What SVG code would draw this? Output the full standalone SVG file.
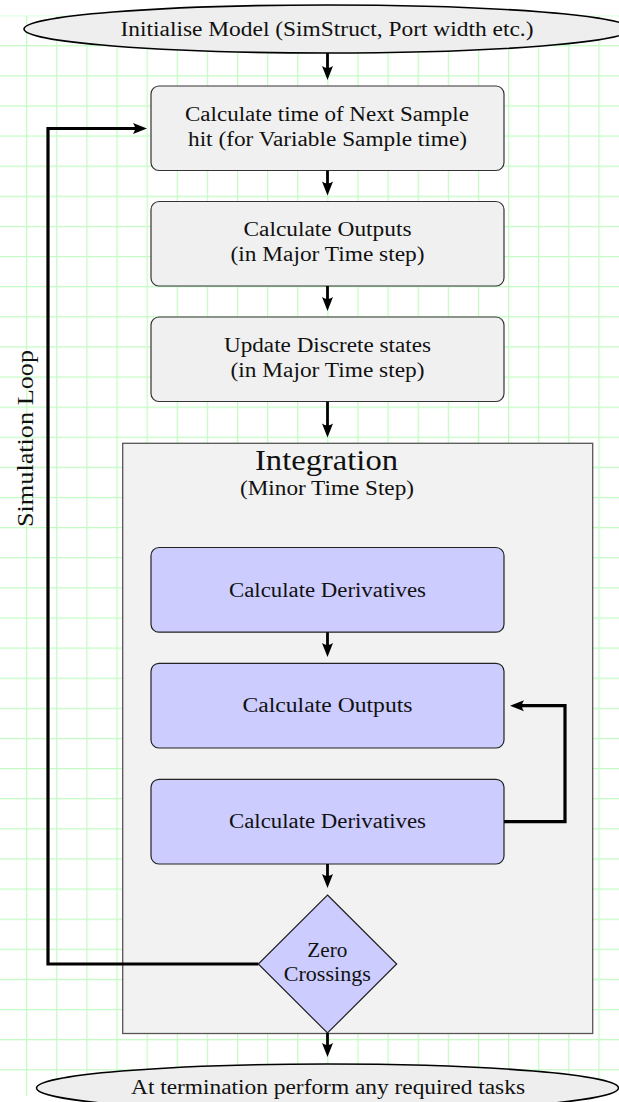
<svg xmlns="http://www.w3.org/2000/svg" width="619" height="1102" viewBox="0 0 619 1102">
<defs>
<pattern id="grid" x="26.1" y="15" width="30.12" height="30.12" patternUnits="userSpaceOnUse">
<path d="M0,0.6 H30.12 M0.6,0 V30.12" fill="none" stroke="#c2fbc2" stroke-width="1.2"/>
</pattern>
<marker id="arr" markerUnits="userSpaceOnUse" markerWidth="20" markerHeight="14" refX="6" refY="0" viewBox="0 -7 20 14" orient="auto" overflow="visible">
<path d="M0,-5.5 Q4,0 0,5.5 L14,0 Z" fill="#000"/>
</marker>
<style>
.t{font-family:"Liberation Serif","Times New Roman",serif;font-size:20.5px;fill:#111;text-anchor:middle}
.gray{fill:#f0f0f0;stroke:#333;stroke-width:1.2}
.blue{fill:#ccccff;stroke:#222;stroke-width:1.2}
.ell{fill:#eeeeee;stroke:#000;stroke-width:1.6}
.c{fill:none;stroke:#000;stroke-width:2.8;marker-end:url(#arr)}
.cl{fill:none;stroke:#000;stroke-width:3.2;marker-end:url(#arr)}
</style>
</defs>
<rect x="0" y="15.6" width="619" height="1080.4" fill="url(#grid)"/>

<g id="integration">
<rect x="122.7" y="443.3" width="470" height="590.2" fill="#f2f2f2" stroke="#555" stroke-width="1.3"/>
<text class="t" x="326.5" y="470" style="font-size:30px" textLength="143" lengthAdjust="spacingAndGlyphs">Integration</text>
<text class="t" x="327" y="495" textLength="174" lengthAdjust="spacingAndGlyphs">(Minor Time Step)</text>
</g>

<g id="init">
<ellipse class="ell" cx="327.5" cy="29" rx="303.5" ry="24"/>
<text class="t" x="327" y="35.5" textLength="413" lengthAdjust="spacingAndGlyphs">Initialise Model (SimStruct, Port width etc.)</text>
</g>

<g id="nextsample">
<rect class="gray" x="151" y="86" width="353" height="84.5" rx="8"/>
<text class="t" x="327" y="120.5" textLength="284" lengthAdjust="spacingAndGlyphs">Calculate time of Next Sample</text>
<text class="t" x="327.5" y="145.5" textLength="279" lengthAdjust="spacingAndGlyphs">hit (for Variable Sample time)</text>
</g>

<g id="outputs">
<rect class="gray" x="151" y="201.5" width="353" height="84.5" rx="8"/>
<text class="t" x="327.5" y="236" textLength="168" lengthAdjust="spacingAndGlyphs">Calculate Outputs</text>
<text class="t" x="327.5" y="261" textLength="194" lengthAdjust="spacingAndGlyphs">(in Major Time step)</text>
</g>

<g id="discrete">
<rect class="gray" x="151" y="317" width="353" height="84.5" rx="8"/>
<text class="t" x="327.5" y="351.5" textLength="207" lengthAdjust="spacingAndGlyphs">Update Discrete states</text>
<text class="t" x="327.5" y="376.5" textLength="194" lengthAdjust="spacingAndGlyphs">(in Major Time step)</text>
</g>

<g id="deriv1">
<rect class="blue" x="151" y="547.5" width="353" height="84.7" rx="8"/>
<text class="t" x="327.5" y="596.5" textLength="197" lengthAdjust="spacingAndGlyphs">Calculate Derivatives</text>
</g>

<g id="minoroutputs">
<rect class="blue" x="151" y="663.3" width="353" height="84.7" rx="8"/>
<text class="t" x="327.5" y="711.5" textLength="170" lengthAdjust="spacingAndGlyphs">Calculate Outputs</text>
</g>

<g id="deriv2">
<rect class="blue" x="151" y="779.3" width="353" height="84.7" rx="8"/>
<text class="t" x="327.5" y="828" textLength="197" lengthAdjust="spacingAndGlyphs">Calculate Derivatives</text>
</g>

<g id="zero">
<path class="blue" d="M327.5,895 L396.7,964 L327.5,1033 L258.3,964 Z"/>
<text class="t" x="327.3" y="957.3" textLength="40" lengthAdjust="spacingAndGlyphs">Zero</text>
<text class="t" x="327.3" y="980.7" textLength="87" lengthAdjust="spacingAndGlyphs">Crossings</text>
</g>

<g id="term">
<ellipse class="ell" cx="327.5" cy="1088" rx="291" ry="24"/>
<text class="t" x="328" y="1094" textLength="394" lengthAdjust="spacingAndGlyphs">At termination perform any required tasks</text>
</g>

<g id="loop-label">
<text class="t" transform="translate(32.5,438.5) rotate(-90)" x="0" y="0" style="font-size:24px" textLength="177" lengthAdjust="spacingAndGlyphs">Simulation Loop</text>
</g>

<g id="connectors">
<path class="c" d="M327.5,53 V72"/>
<path class="c" d="M327.5,170.5 V187.5"/>
<path class="c" d="M327.5,286 V303"/>
<path class="c" d="M327.5,401.5 V429.5"/>
<path class="c" d="M327.5,632.2 V649"/>
<path class="c" d="M327.5,864 V880"/>
<path class="c" d="M327.5,1033 V1049"/>
<path class="cl" d="M504,821.7 H565 V705.7 H518"/>
<path class="cl" d="M258.3,964 H48 V128.5 H139"/>
</g>
</svg>
